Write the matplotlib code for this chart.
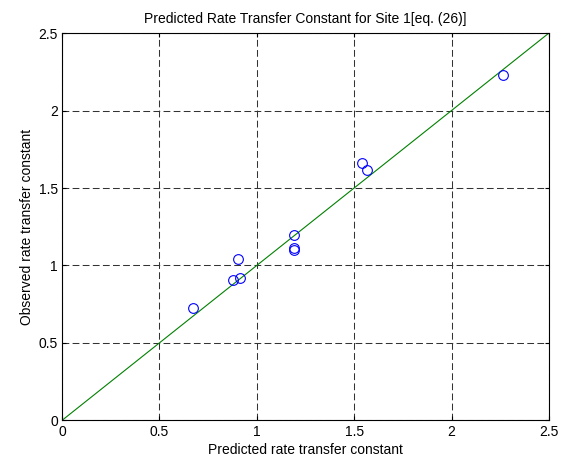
import matplotlib
matplotlib.use("Agg")
import matplotlib.pyplot as plt

predicted = [0.671, 0.877, 0.916, 0.906, 1.191, 1.192, 1.192, 1.542, 1.565, 2.266]
observed = [0.725, 0.905, 0.920, 1.045, 1.197, 1.111, 1.097, 1.661, 1.614, 2.231]
line_x = [0, 2.5]
line_y = [0, 2.5]
ticks = [0, 0.5, 1, 1.5, 2, 2.5]
tick_labels = ["0", "0.5", "1", "1.5", "2", "2.5"]

plt.rcParams['font.family'] = ['Liberation Sans', 'DejaVu Sans']
fig = plt.figure(figsize=(5.63, 4.59), dpi=100)
ax = fig.add_axes([0.110, 0.084, 0.865, 0.844])

ax.plot(predicted, observed, 'o', markerfacecolor='none', markeredgecolor='#0000ff',
        markersize=7, markeredgewidth=0.8, zorder=3)
ax.plot(line_x, line_y, '-', color='#008000', linewidth=0.8, zorder=2)

ax.set_xlim(0, 2.5)
ax.set_ylim(0, 2.5)
ax.set_xticks(ticks)
ax.set_xticklabels(tick_labels)
ax.set_yticks(ticks)
ax.set_yticklabels(tick_labels)
ax.grid(True, color='#333333', linestyle=(0, (6.5, 3.2)), linewidth=0.75)
ax.tick_params(direction='in', top=True, right=True, length=3, labelsize=10, pad=3)
for s in ax.spines.values():
    s.set_linewidth(0.8)

ax.set_title("Predicted Rate Transfer Constant for Site 1[eq. (26)]", fontsize=10, pad=7)
ax.set_xlabel("Predicted rate transfer constant", fontsize=10, labelpad=3)
ax.set_ylabel("Observed rate transfer constant", fontsize=10, labelpad=3)

fig.savefig("out.png", dpi=100)
